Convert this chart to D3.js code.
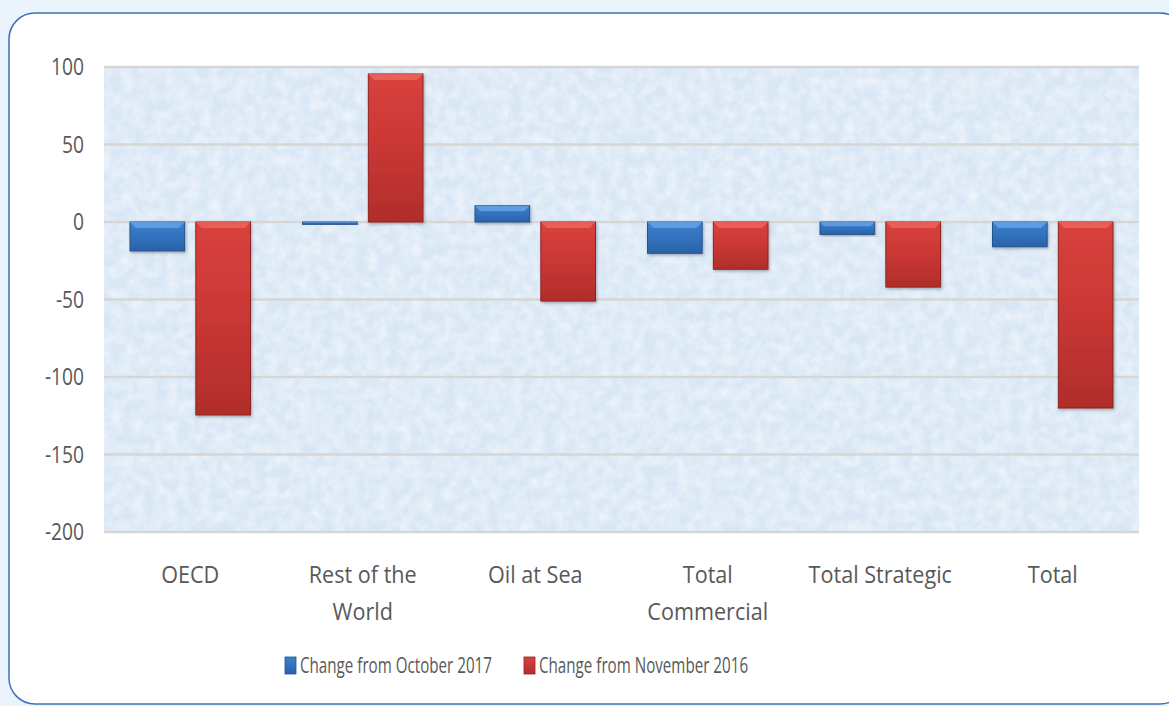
<!DOCTYPE html>
<html>
<head>
<meta charset="utf-8">
<script src="https://cdn.jsdelivr.net/npm/d3@7"></script>
<style>
  html, body { margin: 0; padding: 0; background: #ebf4fc; }
  svg { display: block; }
  .tick-label, .cat-label, .legend-label {
    font-family: "Open Sans", sans-serif;
    fill: #595959;
  }
</style>
</head>
<body>
<svg id="chart" width="1169" height="706"></svg>
<script>
// --- data ---
const categories = [
  ["OECD"],
  ["Rest of the", "World"],
  ["Oil at Sea"],
  ["Total", "Commercial"],
  ["Total Strategic"],
  ["Total"]
];
const seriesNames = ["Change from October 2017", "Change from November 2016"];
const changeOct2017 = [-18.7, -1.5, 10.5, -20.2, -8, -16];
const changeNov2016 = [-124.5, 95.5, -51, -30.5, -42, -120];
const yTicks = [100, 50, 0, -50, -100, -150, -200];

const plot = { left: 104, right: 1139, top: 67, bottom: 532 };

const svg = d3.select("#chart");
const defs = svg.append("defs");

// paper-like texture for the plot area
const tex = defs.append("filter").attr("id", "tex")
  .attr("x", 0).attr("y", 0).attr("width", 1).attr("height", 1);
tex.append("feTurbulence").attr("type", "fractalNoise")
  .attr("baseFrequency", "0.09").attr("numOctaves", 3).attr("seed", 4).attr("result", "n");
tex.append("feColorMatrix").attr("in", "n").attr("type", "matrix")
  .attr("values", "0 0 0 0 1  0 0 0 0 1  0 0 0 0 1  0.9 0 0 0 -0.3").attr("result", "w");
tex.append("feComposite").attr("in", "w").attr("in2", "SourceGraphic").attr("operator", "over");

// soft shadow under the bars
const shadow = defs.append("filter").attr("id", "shadow")
  .attr("x", -0.2).attr("y", -0.2).attr("width", 1.4).attr("height", 1.4);
shadow.append("feDropShadow").attr("dx", 1).attr("dy", 1.5).attr("stdDeviation", 1.5)
  .attr("flood-color", "#000").attr("flood-opacity", 0.3);

// bar gradients
function barGrad(id, light, mid, dark) {
  const g = defs.append("linearGradient").attr("id", id)
    .attr("x1", 0).attr("x2", 0).attr("y1", 0).attr("y2", 1);
  g.append("stop").attr("offset", "0%").attr("stop-color", light);
  g.append("stop").attr("offset", "50%").attr("stop-color", mid);
  g.append("stop").attr("offset", "100%").attr("stop-color", dark);
}
barGrad("gBlue", "#3d80cc", "#3272be", "#2a62a8");
barGrad("gRed", "#d8413d", "#c93734", "#b02d2b");
const edgeColor = ["#24548f", "#8f2422"];
const topColor = ["#6aa8e8", "#ef6a63"];
const fills = ["url(#gBlue)", "url(#gRed)"];

// panel
svg.append("rect").attr("x", 9).attr("y", 13).attr("width", 1177).attr("height", 691)
  .attr("rx", 26).attr("fill", "#ffffff").attr("stroke", "#3a72b8").attr("stroke-width", 1.5);

// scales
const x0 = d3.scaleBand().domain(d3.range(categories.length))
  .range([plot.left, plot.right]).paddingInner(0).paddingOuter(0);
const x1 = d3.scaleBand().domain([0, 1]).range([26, x0.bandwidth() - 26]).paddingInner(0.17);
const y = d3.scaleLinear().domain([-200, 100]).range([plot.bottom, plot.top]);

// plot background
svg.append("rect").attr("x", plot.left).attr("y", plot.top)
  .attr("width", plot.right - plot.left).attr("height", plot.bottom - plot.top)
  .attr("fill", "#d9e7f5").attr("filter", "url(#tex)");

// gridlines
svg.append("g").selectAll("line").data(yTicks).join("line")
  .attr("x1", plot.left).attr("x2", plot.right)
  .attr("y1", d => y(d)).attr("y2", d => y(d))
  .attr("stroke", "#d6d6d6").attr("stroke-width", 2.5);

// y tick labels (squeezed horizontally to mimic the narrow original face)
svg.append("g").selectAll("text").data(yTicks).join("text")
  .attr("class", "tick-label")
  .attr("transform", d => `translate(84,${y(d)}) scale(0.8,1)`)
  .attr("dy", "0.35em")
  .attr("text-anchor", "end").attr("font-size", 24)
  .text(d => d);

// bars
const series = [changeOct2017, changeNov2016];
series.forEach((vals, s) => {
  const g = svg.append("g");
  const bars = g.selectAll("g").data(vals).join("g").attr("filter", "url(#shadow)");
  const bx = (d, i) => x0(i) + x1(s);
  const bw = x1.bandwidth();
  bars.append("rect")
    .attr("x", bx).attr("y", d => Math.min(y(d), y(0)))
    .attr("width", bw).attr("height", d => Math.max(1.5, Math.abs(y(d) - y(0))))
    .attr("fill", fills[s]).attr("stroke", edgeColor[s]).attr("stroke-width", 1);
  // top bevel highlight
  bars.append("path")
    .attr("d", (d, i) => {
      const h = Math.abs(y(d) - y(0));
      const b = Math.min(6, h / 3);
      const xL = bx(d, i), top = Math.min(y(d), y(0));
      return `M${xL},${top}L${xL + bw},${top}L${xL + bw - b},${top + b}L${xL + b},${top + b}Z`;
    })
    .attr("fill", topColor[s]).attr("opacity", 0.75);
});

// category labels
const cat = svg.append("g").selectAll("text").data(categories).join("text")
  .attr("class", "cat-label")
  .attr("transform", (d, i) => `translate(${x0(i) + x0.bandwidth() / 2},583) scale(0.9,1)`)
  .attr("text-anchor", "middle").attr("font-size", 24);
cat.selectAll("tspan").data(d => d).join("tspan")
  .attr("x", 0)
  .attr("dy", (d, i) => i === 0 ? 0 : 37)
  .text(d => d);

// legend
const legendX = [285, 524];
const leg = svg.append("g").selectAll("g").data(seriesNames).join("g")
  .attr("transform", (d, i) => `translate(${legendX[i]},657)`);
leg.append("rect").attr("width", 11).attr("height", 17)
  .attr("fill", (d, i) => fills[i]).attr("stroke", (d, i) => edgeColor[i]).attr("stroke-width", 0.8);
leg.append("text").attr("class", "legend-label")
  .attr("transform", "translate(15,16) scale(0.69,1)")
  .attr("font-size", 22)
  .text(d => d);
</script>
</body>
</html>
